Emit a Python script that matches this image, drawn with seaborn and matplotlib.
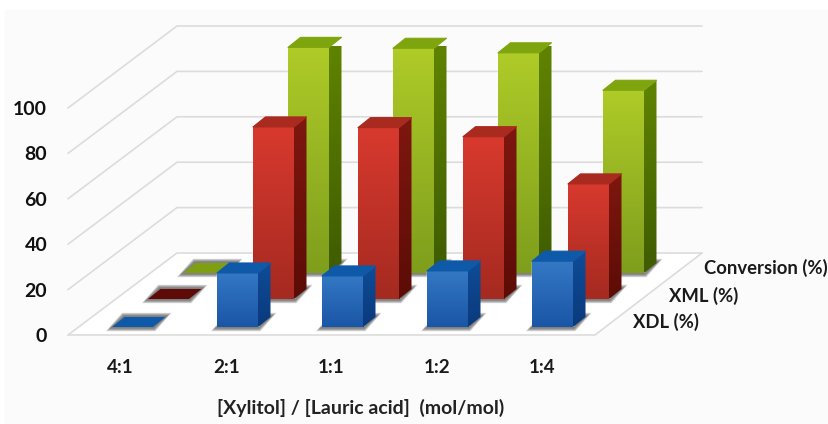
import numpy as np
import pandas as pd
import seaborn as sns
import matplotlib.pyplot as plt
from matplotlib.colors import LinearSegmentedColormap
from matplotlib.patches import Polygon, Rectangle

ratios = ["4:1", "2:1", "1:1", "1:2", "1:4"]
xdl = [0, 23.8, 22.5, 24.7, 29]
xml = [0, 75.8, 75.5, 71.5, 50.7]
conversion = [0, 99.4, 99, 97, 80.5]
y_ticks = [0, 20, 40, 60, 80, 100]

W, H = 829, 424
# front plane of the chart, pixels
LEFT, RIGHT, FLOOR, TOP = 68, 595, 335, 108
STEP = (RIGHT - LEFT) / 5
BAR_STEP = 105
UNIT = (FLOOR - TOP) / 100
DEPTH_X, DEPTH_Y = 109, 82      # floor depth
BAR_DX, BAR_DY = 12.5, 10       # bar depth
BAR_W = 41 / BAR_STEP

sns.set_theme(style="white")
plt.rcParams["font.family"] = ["Lato", "DejaVu Sans"]
plt.rcParams["font.weight"] = "bold"

df = pd.DataFrame({"ratio": ratios, "XDL (%)": xdl, "XML (%)": xml, "Conversion (%)": conversion})
df = df.melt(id_vars="ratio", var_name="series", value_name="value")

# back to front: shift of the series plane in pixels, colours
styles = [
    ("Conversion (%)", 83, 62, ("#aecb28", "#7f9e1c"), ("#608400", "#3f5c00"), "#7fa50e", "#7f9f12"),
    ("XML (%)", 48, 36, ("#d8392e", "#a52a20"), ("#7e1710", "#5c0c06"), "#a92a1e", "#5e0a06"),
    ("XDL (%)", 12, 8, ("#3478c4", "#1a56a6"), ("#0f4c98", "#0a3a7c"), "#0f5aa8", "#0f5aa8"),
]


def frac(x0, x1, y_bottom, y_top):
    return [x0 / W, 1 - y_bottom / H, (x1 - x0) / W, (y_bottom - y_top) / H]


fig = plt.figure(figsize=(W / 100, H / 100), dpi=100, facecolor="white")
fig.patches.append(Rectangle((5 / W, 0), 1, 1 - 10 / H, transform=fig.transFigure, color="#fbfbfb", zorder=-5))

# walls, floor and text
base = fig.add_axes(frac(LEFT, RIGHT, FLOOR, TOP))
base.patch.set_alpha(0)
base.set_xlim(-0.5, 4.5)
base.set_ylim(0, 100)
sns.despine(ax=base, left=True, bottom=True)
ddx, ddy = DEPTH_X / STEP, DEPTH_Y / UNIT
far_x = (702 - LEFT) / STEP - 0.5
near_x = (RIGHT - LEFT) / STEP - 0.5
base.add_patch(Polygon([(-0.5, 0), (near_x, 0), (far_x, ddy), (-0.5 + ddx, ddy)],
                       fc="white", ec="none", clip_on=False))
for t in y_ticks:
    base.plot([-0.5, -0.5 + ddx, far_x], [t, t + ddy, t + ddy], color="#dcdcdc", lw=1.2, clip_on=False)
base.plot([-0.5, near_x, far_x], [0, 0, ddy], color="#dcdcdc", lw=1.2, clip_on=False)
base.set_xticks(range(5))
base.set_xticklabels(ratios, fontsize=13.5, fontweight="bold", color="#1a1a1a")
base.set_yticks(y_ticks)
base.set_yticklabels(y_ticks, fontsize=14, fontweight="bold", color="#111111")
base.tick_params(axis="y", length=0, pad=15)
base.tick_params(axis="x", length=0, pad=17)
base.set_xlabel("")
base.set_ylabel("")
fig.text(361 / W, 1 - 408 / H, "[Xylitol] / [Lauric acid]  (mol/mol)", ha="center", va="center",
         fontsize=14, fontweight="bold", color="#222222")
for name, x, y in [("Conversion (%)", 766, 268), ("XML (%)", 704, 296), ("XDL (%)", 666, 322)]:
    fig.text(x / W, 1 - y / H, name, ha="center", va="center", fontsize=13.3, fontweight="bold", color="#1a1a1a")

for name, sx, sy, front, side, top, flat in styles:
    ax = fig.add_axes(frac(LEFT + sx, LEFT + sx + 5 * BAR_STEP, FLOOR - sy, TOP - sy))
    ax.patch.set_alpha(0)
    sub = df[df["series"] == name]
    sns.barplot(data=sub, x="ratio", y="value", order=ratios, color=front[0], saturation=1,
                width=BAR_W, ax=ax)
    ax.set_xlim(-0.5, 4.5)
    ax.set_ylim(0, 100)
    ax.axis("off")
    dx, dy = BAR_DX / BAR_STEP, BAR_DY / UNIT
    cmap_front = LinearSegmentedColormap.from_list("f", front)
    cmap_side = LinearSegmentedColormap.from_list("s", side)
    ramp = np.linspace(0, 1, 64).reshape(-1, 1)
    for bar in ax.containers[0]:
        x0, w, h = bar.get_x(), bar.get_width(), bar.get_height()
        x1 = x0 + w
        # soft shadow round the foot of the bar
        for g in [6, 5, 4, 3, 2]:
            gx, gy = g / BAR_STEP, g * 0.7 / UNIT
            ax.add_patch(Polygon([(x0 - gx, -gy), (x1 + gx * 0.4, -gy), (x1 + dx + gx, dy + gy), (x0 + dx - gx * 0.4, dy + gy)],
                                 fc="#444444", ec="none", alpha=0.2, clip_on=False, zorder=1))
        if h == 0:
            ax.add_patch(Polygon([(x0, 0), (x1, 0), (x1 + dx, dy), (x0 + dx, dy)],
                                 fc=flat, ec="none", clip_on=False, zorder=3))
            bar.set_visible(False)
            continue
        bar.set_zorder(3)
        im = ax.imshow(ramp, cmap=cmap_front, extent=(x0, x1, 0, h), origin="upper", aspect="auto", zorder=3)
        im.set_clip_on(False)
        side_im = ax.imshow(ramp, cmap=cmap_side, extent=(x1, x1 + dx, 0, h + dy), origin="upper",
                            aspect="auto", zorder=3)
        clip = Polygon([(x1, 0), (x1 + dx, dy), (x1 + dx, h + dy), (x1, h)], transform=ax.transData, fc="none", ec="none")
        ax.add_patch(clip)
        clip.set_clip_on(False)
        side_im.set_clip_path(clip)
        ax.add_patch(Polygon([(x0, h), (x1, h), (x1 + dx, h + dy), (x0 + dx, h + dy)],
                             fc=top, ec=top, lw=0.8, joinstyle="round", clip_on=False, zorder=4))
    ax.set_xlim(-0.5, 4.5)
    ax.set_ylim(0, 100)

fig.savefig("out.png", dpi=100)
